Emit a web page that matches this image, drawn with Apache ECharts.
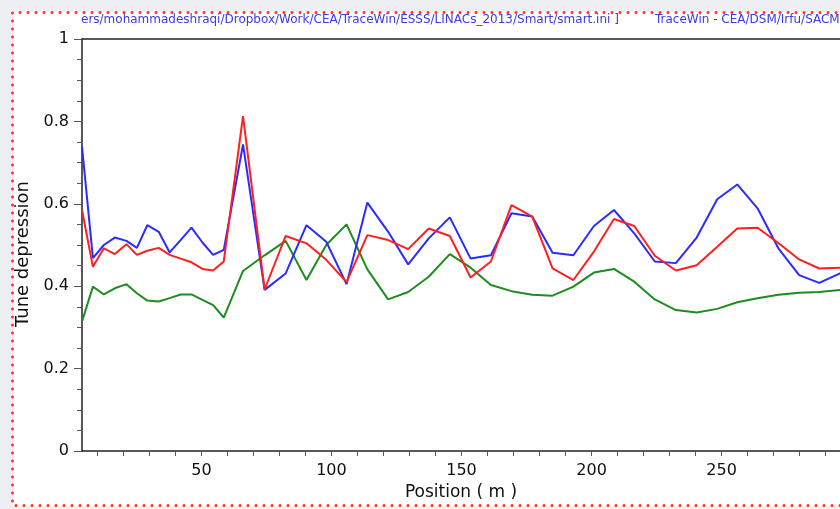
<!DOCTYPE html>
<html>
<head>
<meta charset="utf-8">
<script src="https://cdn.jsdelivr.net/npm/echarts@6/dist/echarts.min.js"></script>
<style>
  html, body { margin: 0; padding: 0; background: #eeeff2; overflow: hidden; }
  #paper { position: absolute; left: 13px; top: 12px; width: 860px; height: 494px; background: #fff; }
  #chart { position: absolute; left: 0; top: 0; width: 840px; height: 509px; }
</style>
</head>
<body>
<div id="paper"></div>
<div id="chart"></div>
<script>
// positions along the linac (m)
const positions = [4.1, 8.3, 12.5, 16.7, 21.2, 25.2, 29.2, 33.6, 37.8, 42, 46.2, 50.4, 54.5, 58.6, 66,
  74.3, 82.4, 90.4, 98, 105.8, 113.8, 121.8, 129.5, 137.4, 145.5, 153.5, 161.3, 169.2, 177.2, 185,
  193, 200.9, 208.6, 216.4, 224.3, 232.4, 240.4, 248.3, 256, 263.8, 271.8, 279.8, 287.5, 295.5, 303.5];

const tuneBlue = [0.739, 0.468, 0.500, 0.518, 0.510, 0.493, 0.548, 0.532, 0.482, 0.512, 0.542, 0.506, 0.476, 0.488, 0.744,
  0.391, 0.431, 0.548, 0.508, 0.405, 0.603, 0.532, 0.453, 0.516, 0.567, 0.467, 0.475, 0.577, 0.569, 0.481,
  0.475, 0.546, 0.585, 0.528, 0.460, 0.456, 0.518, 0.611, 0.647, 0.589, 0.492, 0.427, 0.408, 0.431, 0.45];

const tuneRed = [0.585, 0.447, 0.492, 0.478, 0.502, 0.476, 0.486, 0.493, 0.476, 0.467, 0.458, 0.442, 0.438, 0.460, 0.813,
  0.392, 0.522, 0.504, 0.464, 0.410, 0.524, 0.512, 0.490, 0.540, 0.522, 0.421, 0.460, 0.597, 0.569, 0.443,
  0.415, 0.484, 0.563, 0.546, 0.474, 0.438, 0.451, 0.496, 0.540, 0.542, 0.505, 0.465, 0.443, 0.445, 0.445];

const tuneGreen = [0.314, 0.399, 0.380, 0.395, 0.405, 0.383, 0.365, 0.363, 0.371, 0.380, 0.380, 0.367, 0.354, 0.324, 0.437,
  0.475, 0.510, 0.415, 0.500, 0.550, 0.441, 0.368, 0.386, 0.423, 0.478, 0.445, 0.403, 0.388, 0.379, 0.377,
  0.399, 0.433, 0.442, 0.411, 0.368, 0.342, 0.336, 0.345, 0.361, 0.371, 0.379, 0.384, 0.386, 0.391, 0.395];

const xLabels = [50, 100, 150, 200, 250];
const xTicks = [10, 20, 30, 40, 50, 60, 70, 80, 90, 100, 110, 120, 130, 140, 150, 160, 170, 180, 190, 200,
  210, 220, 230, 240, 250, 260, 270, 280, 290];

const pathText = 'ers/mohammadeshraqi/Dropbox/Work/CEA/TraceWin/ESSS/LINACs_2013/Smart/smart.ini ]';
const appText = 'TraceWin - CEA/DSM/Irfu/SACM';

const font = 'DejaVu Sans';
const chart = echarts.init(document.getElementById('chart'));

function pairs(ys) {
  return positions.map((x, i) => [x, ys[i]]);
}

chart.setOption({
  animation: false,
  grid: { left: 82, right: 0, top: 39, bottom: 58 },
  graphic: [
    {
      type: 'polyline',
      z: 100,
      shape: { points: [[900, 12.5], [12.5, 12.5], [12.5, 505.5], [900, 505.5]] },
      style: { fill: null, stroke: '#ff3322', lineWidth: 3, lineDash: [0, 8], lineCap: 'round' },
    },
    {
      type: 'text', left: 81, top: 14,
      style: { text: pathText, fill: '#3b3be6', font: '12px "' + font + '"' },
    },
    {
      type: 'text', left: 655, top: 14,
      style: { text: appText, fill: '#3b3be6', font: '12px "' + font + '"' },
    },
  ],
  xAxis: [
    {
      type: 'value',
      min: 4.1,
      max: 295.5,
      name: 'Position ( m )',
      nameLocation: 'middle',
      nameGap: 33,
      nameTextStyle: { color: '#111', fontSize: 17, fontFamily: font },
      axisLine: { show: true, lineStyle: { color: '#222', width: 1.5 } },
      axisTick: { show: true, customValues: xTicks, length: 5, lineStyle: { color: '#555' } },
      axisLabel: { customValues: xLabels, margin: 12, color: '#111', fontSize: 16, fontFamily: font },
      splitLine: { show: false },
    },
    {
      type: 'value',
      position: 'top',
      min: 4.1,
      max: 295.5,
      axisLine: { show: true, lineStyle: { color: '#222', width: 1.5 } },
      axisTick: { show: false },
      axisLabel: { show: false },
      splitLine: { show: false },
    },
  ],
  yAxis: {
    type: 'value',
    min: 0,
    max: 1,
    interval: 0.2,
    name: 'Tune depression',
    nameLocation: 'middle',
    nameGap: 46,
    nameTextStyle: { color: '#111', fontSize: 18, fontFamily: font, padding: [0, 18, 0, 0] },
    axisLine: { show: true, lineStyle: { color: '#222', width: 1.5 } },
    axisTick: { show: true, length: 8, lineStyle: { color: '#555' } },
    minorTick: { show: true, splitNumber: 4, length: 5, lineStyle: { color: '#555' } },
    axisLabel: { margin: 13, color: '#111', fontSize: 16, fontFamily: font },
    splitLine: { show: false },
  },
  series: [
    {
      type: 'line', data: pairs(tuneGreen), showSymbol: false,
      lineStyle: { color: '#1e8c1e', width: 2 },
    },
    {
      type: 'line', data: pairs(tuneBlue), showSymbol: false,
      lineStyle: { color: '#2b2bff', width: 2 },
    },
    {
      type: 'line', data: pairs(tuneRed), showSymbol: false,
      lineStyle: { color: '#ff1f1f', width: 2 },
    },
  ],
});
</script>
</body>
</html>
